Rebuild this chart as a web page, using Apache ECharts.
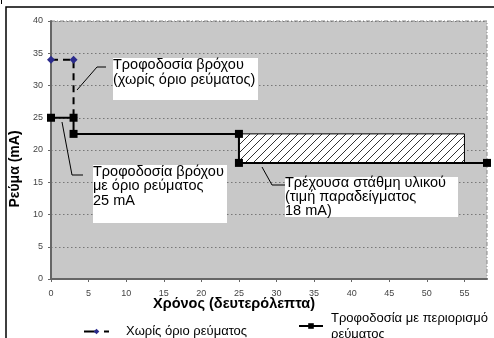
<!DOCTYPE html>
<html><head><meta charset="utf-8">
<script src="https://cdn.jsdelivr.net/npm/echarts@6/dist/echarts.min.js"></script>
<style>html,body{margin:0;padding:0;background:#fff}#c{width:494px;height:338px}</style>
</head><body><div id="c"></div>
<script>
// Data
const noLimitX = [0, 3, 3];
const noLimitY = [34, 34, 25];
const limitX = [0, 3, 3, 25, 25, 58];
const limitY = [25, 25, 22.5, 22.5, 18, 18];
const hatchRect = [25, 55, 18, 22.5]; // x0, x1, y0, y1
const seriesNames = ['Χωρίς όριο ρεύματος', 'Τροφοδοσία με περιορισμό ρεύματος'];
const xName = 'Χρόνος (δευτερόλεπτα)';
const yName = 'Ρεύμα (mA)';
const notes = [
  'Τροφοδοσία βρόχου\n(χωρίς όριο ρεύματος)',
  'Τροφοδοσία βρόχου\nμε όριο ρεύματος\n25 mA',
  'Τρέχουσα στάθμη υλικού\n(τιμή παραδείγματος\n18 mA)'
];

const FONT = '"Liberation Sans", Arial, sans-serif';

// hatch pattern
const pc = document.createElement('canvas');
pc.width = 8; pc.height = 8;
const pctx = pc.getContext('2d');
pctx.fillStyle = '#ffffff'; pctx.fillRect(0,0,8,8);
pctx.strokeStyle = '#000'; pctx.lineWidth = 0.8;
pctx.beginPath();
pctx.moveTo(0,8); pctx.lineTo(8,0);
pctx.moveTo(-4,4); pctx.lineTo(4,-4);
pctx.moveTo(4,12); pctx.lineTo(12,4);
pctx.stroke();

const chart = echarts.init(document.getElementById('c'), null, {renderer: 'canvas'});
const option = {
  animation: false,
  grid: {left: 51, right: 7, top: 21, bottom: 59, show: true, backgroundColor: '#c8c8c8', borderWidth: 0},
  xAxis: {
    type: 'value', min: 0, max: 58, interval: 5,
    name: xName, nameLocation: 'middle', nameGap: 17, nameMoveOverlap: false,
    nameTextStyle: {fontFamily: FONT, fontWeight: 'bold', fontSize: 14.5, color: '#000', padding: [0, 70, 0, 0]},
    axisLine: {show: true, lineStyle: {color: '#666', width: 2}},
    axisTick: {show: true, length: 3, lineStyle: {color: '#666'}},
    axisLabel: {fontFamily: FONT, fontSize: 9, color: '#444', margin: 10, showMaxLabel: false},
    splitLine: {show: false}
  },
  yAxis: {
    type: 'value', min: 0, max: 40, interval: 5,
    name: yName, nameLocation: 'middle', nameGap: 28, nameRotate: 90,
    nameTextStyle: {fontFamily: FONT, fontWeight: 'bold', fontSize: 14, color: '#000', padding: [0, 38, 0, 0]},
    axisLine: {show: true, lineStyle: {color: '#666', width: 2}},
    axisTick: {show: true, length: 3, lineStyle: {color: '#666'}},
    axisLabel: {fontFamily: FONT, fontSize: 9, color: '#444', margin: 8},
    splitLine: {show: true, lineStyle: {color: '#777', type: [1.5, 2.5], width: 1}}
  },
  legend: [
    {data: [seriesNames[0]], left: 83, top: 325, itemWidth: 25, itemHeight: 7, padding: 0,
     lineStyle: {type: [13, 7, 5, 7]},
     textStyle: {fontFamily: FONT, fontSize: 13, color: '#000', padding: [0, 0, 0, 12]}},
    {data: [seriesNames[1]], left: 298, top: 310, itemWidth: 24, itemHeight: 7, padding: 0,
     formatter: n => n.replace('περιορισμό ', 'περιορισμό\n'),
     textStyle: {fontFamily: FONT, fontSize: 13, color: '#000', lineHeight: 16, padding: [0, 0, 0, 3]}}
  ],
  series: [
    {
      type: 'custom', name: 'hatch', silent: true, z: 1,
      data: [hatchRect],
      renderItem: (params, api) => {
        const p0 = api.coord([api.value(0), api.value(3)]);
        const p1 = api.coord([api.value(1), api.value(2)]);
        return {type: 'rect', shape: {x: p0[0], y: p0[1], width: p1[0]-p0[0], height: p1[1]-p0[1]},
          style: {fill: {image: pc, repeat: 'repeat'}, stroke: '#000', lineWidth: 1}};
      }
    },
    {
      type: 'line', name: seriesNames[1], z: 3,
      data: limitX.map((x, i) => [x, limitY[i]]),
      symbol: 'rect', symbolSize: 8,
      lineStyle: {color: '#000', width: 2},
      itemStyle: {color: '#000'}
    },
    {
      type: 'line', name: seriesNames[0], z: 2,
      data: noLimitX.map((x, i) => [x, noLimitY[i]]),
      symbol: 'diamond', symbolSize: 8,
      lineStyle: {color: '#000', width: 2, type: [7, 5]},
      itemStyle: {color: '#2b2b8c'}
    }
  ],
  graphic: [
    // outer frame
    {type: 'polyline', shape: {points: [[6, 338], [6, 7], [494, 7]]}, style: {stroke: '#000', lineWidth: 1.5, fill: null}},
    {type: 'line', shape: {x1: 1.5, y1: 0, x2: 1.5, y2: 4}, style: {stroke: '#000', lineWidth: 1}},
    // plot top/right dashed border
    {type: 'polyline', shape: {points: [[51, 21], [487, 21], [487, 279]]}, style: {stroke: '#888', lineWidth: 1, lineDash: [4, 2, 1, 2], fill: null}},
    // annotation boxes
    {type: 'rect', shape: {x: 113, y: 58, width: 145, height: 42}, style: {fill: '#fff'}, z: 10},
    {type: 'text', x: 113, y: 57.5, z: 11, style: {text: notes[0], font: '14.5px ' + FONT, fill: '#000', lineHeight: 15}},
    {type: 'rect', shape: {x: 93, y: 165, width: 134, height: 58}, style: {fill: '#fff'}, z: 10},
    {type: 'text', x: 93, y: 164.5, z: 11, style: {text: notes[1], font: '14.5px ' + FONT, fill: '#000', lineHeight: 14.5}},
    {type: 'rect', shape: {x: 285, y: 177, width: 173, height: 40}, style: {fill: '#fff'}, z: 10},
    {type: 'text', x: 285, y: 176, z: 11, style: {text: notes[2], font: '14.5px ' + FONT, fill: '#000', lineHeight: 14}},
    // leader lines
    {type: 'polyline', z: 9, shape: {points: [[106, 67], [97, 67], [77, 90]]}, style: {stroke: '#000', lineWidth: 1, fill: null}},
    {type: 'polyline', z: 9, shape: {points: [[62, 122], [72, 175], [83, 175]]}, style: {stroke: '#000', lineWidth: 1, fill: null}},
    {type: 'polyline', z: 9, shape: {points: [[262, 167], [272, 185], [285, 185]]}, style: {stroke: '#000', lineWidth: 1, fill: null}}
  ]
};
chart.setOption(option);
</script></body></html>
